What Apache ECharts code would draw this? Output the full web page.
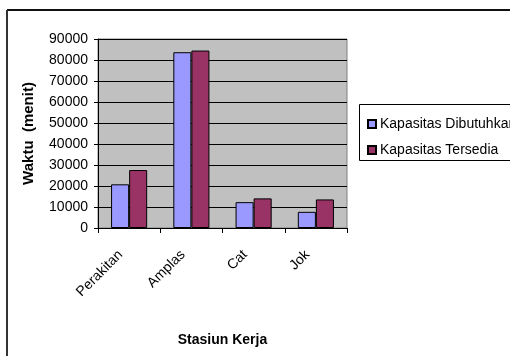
<!DOCTYPE html>
<html>
<head>
<meta charset="utf-8">
<script src="https://cdn.jsdelivr.net/npm/echarts@6/dist/echarts.min.js"></script>
<style>
  html, body { margin: 0; padding: 0; background: #fff; }
  #chart { width: 510px; height: 356px; }
</style>
</head>
<body>
<div id="chart"></div>
<script>
// stasiun kerja
var categories = ['Perakitan', 'Amplas', 'Cat', 'Jok'];
var seriesNames = ['Kapasitas Dibutuhkan', 'Kapasitas Tersedia'];
var dibutuhkan = [20800, 83700, 12300, 7700];
var tersedia = [27600, 84500, 14100, 13600];

var chart = echarts.init(document.getElementById('chart'), null, { renderer: 'canvas' });

var font = 'Liberation Sans, Arial, sans-serif';

var option = {
    animation: false,
    textStyle: { fontFamily: font },
    grid: {
        left: 98,
        top: 39,
        right: 163,
        bottom: 128,
        show: true,
        backgroundColor: '#C0C0C0',
        borderColor: '#808080',
        borderWidth: 1
    },
    legend: {
        orient: 'vertical',
        left: 362,
        top: 112,
        itemWidth: 8,
        itemHeight: 8,
        itemGap: 12,
        icon: 'rect',
        textStyle: { fontFamily: font, fontSize: 14, color: '#000', padding: [0, 0, 0, -1] },
        data: seriesNames
    },
    xAxis: {
        type: 'category',
        data: categories,
        name: 'Stasiun Kerja',
        nameLocation: 'middle',
        nameGap: 105,
        nameTextStyle: { fontFamily: font, fontSize: 14, fontWeight: 'bold', color: '#000' },
        axisLine: { lineStyle: { color: '#000', width: 1 } },
        axisTick: { show: true, length: 5, lineStyle: { color: '#000' } },
        axisLabel: { rotate: 45, fontSize: 14, color: '#000', margin: 16, padding: [0, 12, 0, 0], fontFamily: font }
    },
    yAxis: {
        type: 'value',
        min: 0,
        max: 90000,
        interval: 10000,
        name: 'Waktu  (menit)',
        nameLocation: 'middle',
        nameGap: 62,
        nameRotate: 90,
        nameTextStyle: { fontFamily: font, fontSize: 15, fontWeight: 'bold', color: '#000' },
        axisLine: { show: true, lineStyle: { color: '#000', width: 1 } },
        axisTick: { show: true, length: 4, lineStyle: { color: '#000' } },
        axisLabel: { fontSize: 14, color: '#000', margin: 10, fontFamily: font, formatter: function (v) { return String(v); } },
        splitLine: { show: true, lineStyle: { color: '#000', width: 1 } }
    },
    series: [{
        name: seriesNames[0],
        type: 'bar',
        data: dibutuhkan,
        barGap: '0%',
        barCategoryGap: '42%',
        itemStyle: { color: '#9999FF', borderColor: '#000', borderWidth: 1 }
    }, {
        name: seriesNames[1],
        type: 'bar',
        data: tersedia,
        itemStyle: { color: '#993366', borderColor: '#000', borderWidth: 1 }
    }],
    graphic: [
        // bingkai luar
        { type: 'line', shape: { x1: 7, y1: 10, x2: 510, y2: 10 }, style: { stroke: '#111', lineWidth: 2 } },
        { type: 'line', shape: { x1: 7, y1: 10, x2: 7, y2: 356 }, style: { stroke: '#333', lineWidth: 2 } },
        // kotak legenda
        { type: 'rect', shape: { x: 359.5, y: 104.5, width: 200, height: 56 }, style: { fill: null, stroke: '#000', lineWidth: 1 }, z: 10 }
    ]
};

chart.setOption(option);
</script>
</body>
</html>
